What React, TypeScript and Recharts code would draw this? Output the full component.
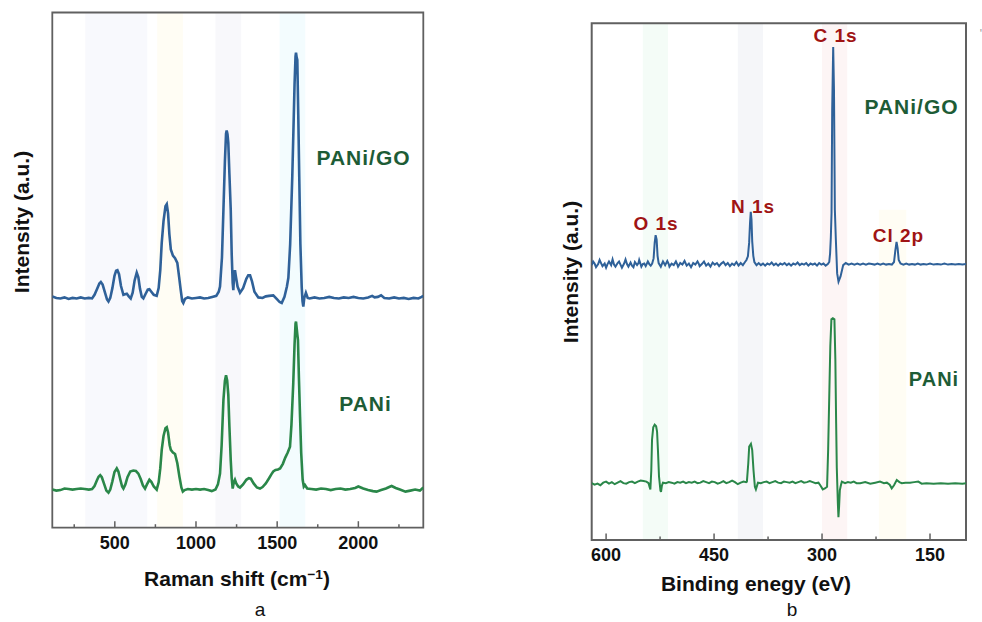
import React from 'react';
import { LineChart, Line, XAxis, YAxis, ReferenceArea } from 'recharts';

// ---------- Panel a: Raman spectra (x: Raman shift cm-1, y: intensity a.u.) ----------
const ramanGO: number[][] = [
  [115,44.9],[140,44.6],[165,44.5],[190,44.7],[215,44.4],[240,44.6],[265,44.5],[290,44.7],[315,44.5],[340,44.6],[360,44.5],
  [375,45.2],[390,46.3],[405,47.4],[414,47.7],[425,47.2],[440,45.6],[452,44.3],[461,43.9],[472,44.6],[485,46.5],[498,48.9],
  [508,49.9],[516,50.0],[526,49.2],[538,46.9],[553,45.2],[563,45.3],[574,45.4],[586,44.9],[598,44.5],[610,45.6],[622,48.0],
  [635,49.5],[645,48.6],[655,46.4],[666,44.8],[676,44.5],[690,45.4],[703,46.2],[713,46.3],[725,45.8],[740,45.2],[758,45.0],
  [770,46.5],[780,50.0],[789,55.3],[800,59.5],[812,62.4],[820,62.8],[828,61.0],[836,57.0],[845,54.0],[858,52.8],[871,52.3],
  [885,51.4],[896,48.7],[906,46.1],[915,44.0],[922,43.6],[932,44.4],[950,44.7],[975,44.5],[1000,44.6],[1025,44.7],[1050,44.5],
  [1075,44.6],[1100,44.8],[1125,45.0],[1140,45.8],[1148,46.8],[1160,52.5],[1169,61.7],[1178,71.0],[1185,76.5],[1189,77.1],
  [1194,76.4],[1199,74.7],[1206,68.5],[1214,61.7],[1220,53.0],[1226,47.5],[1230,46.1],[1235,49.0],[1240,50.0],[1246,48.7],
  [1256,46.8],[1271,45.6],[1290,46.5],[1310,48.3],[1322,49.0],[1333,49.0],[1345,47.8],[1360,45.8],[1384,44.7],[1410,44.6],
  [1430,44.9],[1450,45.0],[1476,45.1],[1500,44.3],[1515,43.8],[1528,43.6],[1545,44.8],[1560,46.8],[1569,48.5],[1580,55.0],
  [1593,68.1],[1600,77.0],[1607,86.0],[1613,91.5],[1616,92.2],[1620,91.3],[1624,90.8],[1630,80.0],[1636,68.1],[1643,55.0],
  [1651,46.8],[1656,44.0],[1661,42.9],[1667,44.6],[1677,45.6],[1688,44.6],[1700,44.5],[1730,44.7],[1760,44.5],[1790,44.6],
  [1820,44.8],[1850,44.6],[1880,44.5],[1910,44.7],[1940,44.6],[1970,44.8],[2000,44.6],[2030,44.5],[2060,44.7],[2085,45.0],
  [2100,44.7],[2120,44.8],[2140,45.1],[2160,44.6],[2190,44.5],[2220,44.7],[2250,44.5],[2280,44.6],[2310,44.4],[2340,44.6],
  [2370,44.5],[2390,44.8],[2400,45.0],
];

const ramanPANi: number[][] = [
  [115,7.4],[140,7.2],[165,7.3],[190,7.6],[215,7.5],[240,7.4],[265,7.5],[290,7.6],[315,7.5],[340,7.4],[360,7.5],[375,8.1],
  [390,9.2],[400,9.9],[410,10.2],[420,9.8],[435,8.4],[448,7.2],[461,6.8],[472,7.4],[485,9.0],[498,10.8],[512,11.5],[522,10.9],
  [535,9.2],[545,8.0],[553,7.6],[565,8.4],[578,9.8],[595,10.9],[614,11.1],[630,11.0],[645,10.5],[660,9.4],[673,8.2],[686,7.6],
  [698,8.4],[713,9.3],[725,8.9],[740,8.0],[758,7.4],[770,8.8],[780,11.5],[789,15.1],[800,17.8],[812,19.3],[820,19.5],[828,18.5],
  [838,16.0],[845,15.1],[858,14.6],[871,14.3],[885,12.5],[898,9.9],[910,7.8],[919,7.0],[930,7.3],[950,7.5],[975,7.4],[1000,7.5],
  [1025,7.4],[1050,7.5],[1075,7.3],[1097,7.1],[1120,7.4],[1135,8.4],[1148,10.5],[1158,16.0],[1169,24.8],[1178,28.5],[1185,29.6],
  [1192,28.6],[1199,25.8],[1206,19.5],[1214,13.1],[1220,9.6],[1226,7.6],[1233,8.8],[1240,9.3],[1248,8.6],[1260,8.0],[1271,7.8],
  [1290,8.4],[1310,9.3],[1325,9.6],[1338,9.5],[1355,8.6],[1375,7.8],[1394,7.6],[1410,7.9],[1430,8.6],[1450,9.6],[1465,10.4],
  [1476,10.9],[1490,11.2],[1505,11.3],[1518,11.5],[1535,12.4],[1550,13.6],[1565,14.6],[1579,15.7],[1588,20.0],[1599,28.0],
  [1607,35.5],[1613,39.6],[1616,40.0],[1620,38.8],[1624,37.5],[1628,36.4],[1634,29.0],[1641,21.5],[1648,14.5],[1657,9.3],
  [1664,8.0],[1671,8.3],[1685,7.6],[1710,7.5],[1740,7.4],[1770,7.6],[1800,7.5],[1830,7.3],[1860,7.5],[1890,7.6],[1920,7.4],
  [1950,7.5],[1980,7.7],[2000,8.0],[2030,7.6],[2060,7.3],[2090,7.1],[2112,7.0],[2140,7.3],[2170,7.6],[2190,7.9],[2205,8.1],
  [2230,7.7],[2256,7.4],[2290,7.0],[2320,7.2],[2350,7.4],[2379,7.2],[2400,7.8],
];

const ramanTicks = [250, 500, 750, 1000, 1250, 1500, 1750, 2000, 2250];
const ramanTickLabels = [500, 1000, 1500, 2000];
const ramanBands: [number, number][] = [[318, 700], [761, 919], [1120, 1278], [1515, 1673]];

// ---------- Panel b: XPS survey (x: binding energy eV, y: intensity a.u.) ----------
const xpsGO: number[][] = [
  [620,53.2],[618,53.9],[616,53.5],[614,52.8],[611,53.4],[609,54.2],[607,53.6],[605,53.0],[602,53.5],[600,52.7],[598,53.4],
  [596,53.9],[593,53.2],[591,54.3],[589,53.3],[587,52.9],[584,53.6],[582,53.9],[580,53.3],[578,52.7],[575,53.5],[573,54.3],
  [571,53.4],[569,52.9],[566,53.7],[564,53.1],[562,52.8],[560,53.8],[557,53.2],[555,53.6],[554,54.2],[551,52.9],[549,53.4],
  [547,53.5],[545,53.0],[542,53.9],[540,53.4],[538,53.1],[536,53.5],[534,54.5],[532.5,57.5],[531.2,59.0],[529.8,58.2],
  [528.5,55.0],[527,53.6],[524,52.9],[522,53.6],[521,53.9],[518,53.2],[515,54.0],[513,53.4],[512,52.9],[509,53.5],[506,53.2],
  [503,53.9],[501,53.3],[500,52.9],[497,53.6],[494,53.3],[491,54.0],[489,53.4],[488,53.1],[485,53.5],[482,52.8],[479,53.6],
  [476,53.3],[473,53.9],[471,53.4],[470,53.0],[467,53.4],[464,53.9],[461,53.1],[458,53.5],[455,52.9],[452,53.7],[449,53.3],
  [446,53.6],[443,53.0],[440,53.5],[437,53.8],[434,53.2],[431,53.6],[428,53.0],[425,53.5],[422,53.2],[419,53.8],[416,53.1],
  [413,53.6],[410,53.2],[407,53.8],[405,54.2],[403,54.9],[401.3,57.5],[400,61.5],[399,63.5],[398,62.0],[397,57.8],[395.5,55.0],
  [394,53.8],[391,53.2],[388,53.6],[385,53.2],[382,53.5],[379,53.1],[376,53.5],[373,53.3],[370,53.7],[367,53.2],[364,53.5],
  [361,53.1],[358,53.5],[355,53.3],[352,53.6],[349,53.2],[346,53.5],[343,53.1],[340,53.5],[337,53.3],[334,53.7],[331,53.2],
  [328,53.5],[325,53.3],[322,53.6],[319,53.1],[316,53.5],[313,53.3],[310,53.5],[307,53.1],[304,53.6],[301,53.3],[298,53.5],
  [295,53.1],[292,53.4],[290,53.8],[288.8,55.5],[287.8,58.5],[286.8,63.3],[285.9,83.2],[284.5,95.4],[283.4,87.1],[282.2,63.9],
  [280.8,58.1],[279.0,51.6],[277.1,50.0],[274.3,51.0],[270.6,53.2],[267,53.6],[263,53.3],[259,53.5],[255,53.3],[251,53.5],
  [247,53.3],[243,53.5],[239,53.3],[235,53.5],[231,53.4],[227,53.3],[223,53.5],[219,53.3],[215,53.5],[211,53.3],[207,53.4],
  [203,53.3],[200,53.8],[198.2,56.0],[196.5,57.7],[195,56.5],[193.5,54.2],[191,53.5],[187,53.3],[183,53.5],[179,53.3],[175,53.4],
  [171,53.3],[167,53.5],[163,53.3],[159,53.4],[155,53.3],[150,53.5],[145,53.3],[140,53.4],[135,53.3],[130,53.5],[125,53.3],
  [120,53.4],[115,53.3],[110,53.4],[105,53.3],[100,53.4],
];

const xpsPANi: number[][] = [
  [620,11.0],[616,10.7],[612,10.9],[608,10.6],[604,11.1],[600,11.3],[596,10.9],[592,11.2],[588,10.8],[584,11.1],[580,11.4],
  [576,11.0],[572,10.9],[568,11.2],[564,11.3],[560,11.0],[556,11.3],[552,11.5],[548,11.4],[544,11.3],[541,11.0],[539.5,10.2],
  [538.5,9.8],[537.2,13.5],[536.2,19.4],[534.5,21.8],[532.5,22.3],[530.5,22.0],[529.2,21.0],[528,17.5],[526.5,12.3],[524.5,9.6],
  [523.7,9.3],[522.5,10.5],[521,11.1],[517,11.0],[513,11.2],[509,11.1],[505,10.9],[501,11.2],[497,11.1],[493,11.3],[489,11.0],
  [485,11.2],[481,11.1],[477,11.3],[473,11.0],[469,11.1],[465,11.4],[461,11.2],[457,11.0],[453,11.3],[449,11.2],[445,10.9],
  [441,11.1],[437,11.4],[433,11.0],[429,11.2],[425,11.5],[421,11.2],[417,10.8],[413,11.1],[409,11.3],[405.5,11.2],[404.4,11.3],
  [402.5,14.8],[401.2,18.1],[398.8,18.6],[397,17.4],[395.2,13.5],[393.3,10.3],[391.9,9.8],[389,11.1],[385,11.0],[381,11.2],
  [377,11.3],[373,11.0],[369,11.2],[365,11.4],[361,11.1],[357,11.0],[353,11.3],[349,11.2],[345,11.1],[341,11.3],[337,11.0],
  [333,11.2],[329,11.4],[325,11.1],[321,11.2],[317,11.4],[313,11.2],[309,11.0],[305,11.1],[302,10.5],[299,9.8],[296,10.0],
  [293,10.3],[291.5,17.5],[289.8,29.0],[288.5,37.5],[287,42.7],[285,42.9],[282.8,42.7],[281.5,35.0],[280.4,22.6],[279.5,14.0],
  [279,11.6],[278,7.0],[277.2,4.4],[276.3,6.5],[275.3,9.6],[273.5,10.8],[272.5,11.3],[268,11.0],[264,11.2],[260,11.1],[256,11.3],
  [252,11.0],[247,11.0],[240,11.2],[233,10.9],[226,11.1],[219.5,11.3],[214,11.0],[210,11.1],[206,10.7],[203.2,10.0],[200,10.6],
  [196.2,11.6],[192.5,11.2],[189.3,11.0],[184,11.1],[177.8,11.1],[172,11.2],[166.3,11.3],[161.6,10.9],[155,11.0],[145,10.9],
  [135,11.0],[125,10.9],[115,11.0],[105,10.9],[100,11.0],
];

const xpsTicks = [600, 525, 450, 375, 300, 225, 150];
const xpsTickLabels = [600, 450, 300, 150];
const xpsBands: [number, number, number][] = [[514, 549, 100], [382, 417, 100], [265, 300, 100], [183, 221, 63.9]];

// ---------- styling ----------
const FONT = '"Liberation Sans", Arial, Helvetica, sans-serif';
const BLUE = '#2f6199';
const GREEN = '#2a8749';
const LABEL_GREEN = '#1d5c36';
const LABEL_RED = '#a01414';
const FRAME = '#606060';
const ramanBandColors = ['#f8f9fd', '#fffdf4', '#f8f8fb', '#f3fcfe'];
const xpsBandColors = ['#f4fcf7', '#f5f6f9', '#fdf5f5', '#fffdf4'];

const toPts = (arr: number[][]) => arr.map(([x, y]) => ({ x, y }));

function AxisTick(props: any) {
  const { x, y, payload, labels, offset } = props;
  const major = labels.includes(payload.value);
  return (
    <g>
      <line x1={x} x2={x} y1={y} y2={y - (major ? 6.5 : 3.5)} stroke={FRAME} strokeWidth={1.5} />
      {major && (
        <text x={x} y={y + offset} textAnchor="middle" dominantBaseline="central" fontSize={18}
          fontWeight="bold" fill="#111" fontFamily={FONT}>
          {payload.value}
        </text>
      )}
    </g>
  );
}

function Txt({ x, y, children, size = 21, color = '#111', bold = true, rotate = false, spacing = 0 }: any) {
  return (
    <div style={{
      position: 'absolute', left: x, top: y, transform: `translate(-50%,-50%)${rotate ? ' rotate(-90deg)' : ''}`,
      fontFamily: FONT, fontSize: size, fontWeight: bold ? 'bold' : 'normal', color, whiteSpace: 'nowrap',
      lineHeight: 1, letterSpacing: spacing,
    }}>{children}</div>
  );
}

export default function App() {
  const go = toPts(ramanGO);
  const pa = toPts(ramanPANi);
  const xgo = toPts(xpsGO);
  const xpa = toPts(xpsPANi);
  return (
    <div style={{ position: 'absolute', left: 0, top: 0, width: 982, height: 622, background: '#fff', overflow: 'hidden' }}>
      <div style={{ position: 'absolute', left: 0, top: 0 }}>
        <LineChart width={450} height={622} margin={{ top: 12.5, right: 26.7, bottom: 64.3, left: 52.3 }}>
          <XAxis type="number" dataKey="x" domain={[115, 2400]} allowDataOverflow ticks={ramanTicks}
            interval={0} height={30} tickSize={0} tickMargin={0} axisLine={false} tickLine={false}
            tick={<AxisTick labels={ramanTickLabels} offset={15.6} />} />
          <YAxis type="number" domain={[0, 100]} hide allowDataOverflow />
          {ramanBands.map(([a, b], i) => (
            <ReferenceArea key={'rb' + i} x1={a} x2={b} y1={0} y2={100} fill={ramanBandColors[i]} fillOpacity={1} stroke="none" />
          ))}
          <Line data={go} dataKey="y" type="linear" stroke={BLUE} strokeWidth={2.6} dot={false} isAnimationActive={false} />
          <Line data={pa} dataKey="y" type="linear" stroke={GREEN} strokeWidth={2.6} dot={false} isAnimationActive={false} />
          <ReferenceArea x1={115} x2={2400} y1={0} y2={100} fill="none" stroke={FRAME} strokeWidth={1.8} />
        </LineChart>
      </div>
      <div style={{ position: 'absolute', left: 540, top: 0 }}>
        <LineChart width={442} height={622} margin={{ top: 23.3, right: 16, bottom: 52, left: 51.7 }}>
          <XAxis type="number" dataKey="x" domain={[100, 620]} reversed allowDataOverflow ticks={xpsTicks}
            interval={0} height={30} tickSize={0} tickMargin={0} axisLine={false} tickLine={false}
            tick={<AxisTick labels={xpsTickLabels} offset={15} />} />
          <YAxis type="number" domain={[0, 100]} hide allowDataOverflow />
          {xpsBands.map(([a, b, top], i) => (
            <ReferenceArea key={'xb' + i} x1={a} x2={b} y1={0} y2={top} fill={xpsBandColors[i]} fillOpacity={1} stroke="none" />
          ))}
          <Line data={xgo} dataKey="y" type="linear" stroke={BLUE} strokeWidth={2} dot={false} isAnimationActive={false} />
          <Line data={xpa} dataKey="y" type="linear" stroke={GREEN} strokeWidth={2} dot={false} isAnimationActive={false} />
          <ReferenceArea x1={100} x2={620} y1={0} y2={100} fill="none" stroke={FRAME} strokeWidth={2} />
        </LineChart>
      </div>

      <Txt x={20.5} y={222} rotate>Intensity (a.u.)</Txt>
      <Txt x={570} y={272} rotate>Intensity (a.u.)</Txt>
      <Txt x={237} y={578}>Raman shift (cm<sup style={{ fontSize: '0.65em', verticalAlign: '0.5em' }}>−1</sup>)</Txt>
      <Txt x={756} y={583}>Binding enegy (eV)</Txt>
      <Txt x={260} y={609} size={19} bold={false}>a</Txt>
      <Txt x={792} y={609} size={19} bold={false}>b</Txt>

      <Txt x={363.5} y={157} color={LABEL_GREEN} spacing={1}>PANi/GO</Txt>
      <Txt x={365.5} y={403} color={LABEL_GREEN} spacing={1}>PANi</Txt>
      <Txt x={911.5} y={106} color={LABEL_GREEN} spacing={1}>PANi/GO</Txt>
      <Txt x={934} y={379} size={20} color={LABEL_GREEN} spacing={1}>PANi</Txt>

      <Txt x={835.5} y={35} size={19} color={LABEL_RED} spacing={1}>C 1s</Txt>
      <Txt x={753} y={206} size={19} color={LABEL_RED} spacing={1}>N 1s</Txt>
      <Txt x={656} y={222.5} size={19} color={LABEL_RED} spacing={1}>O 1s</Txt>
      <Txt x={898.5} y={235} size={19} color={LABEL_RED} spacing={1}>Cl 2p</Txt>
      <Txt x={981} y={34} size={12} color="#9a9a9a" bold={false}>'</Txt>
    </div>
  );
}
